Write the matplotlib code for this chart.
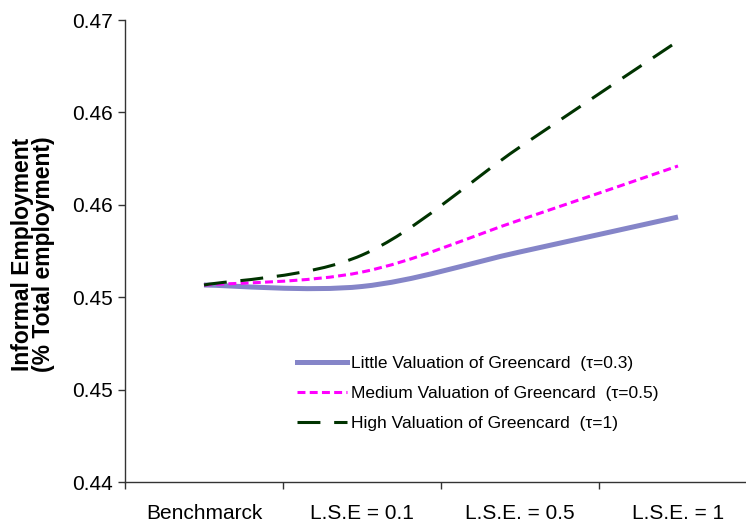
import numpy as np
import matplotlib
matplotlib.use("Agg")
import matplotlib.pyplot as plt
from matplotlib.path import Path
from matplotlib.patches import PathPatch
from matplotlib.lines import Line2D
from matplotlib.ticker import FormatStrFormatter

plt.rcParams['font.family'] = ['Liberation Sans', 'DejaVu Sans']

categories = ["Benchmarck", "L.S.E = 0.1", "L.S.E. = 0.5", "L.S.E. = 1"]
little = [0.45466, 0.45458, 0.45645, 0.45834]
medium = [0.45466, 0.45536, 0.45818, 0.46110]
high = [0.45466, 0.45628, 0.46213, 0.46786]
labels = ["Little Valuation of Greencard  (\u03c4=0.3)",
          "Medium Valuation of Greencard  (\u03c4=0.5)",
          "High Valuation of Greencard  (\u03c4=1)"]
yticks = [0.444, 0.449, 0.454, 0.459, 0.464, 0.469]

W, H = 746, 527
fig = plt.figure(figsize=(W / 100, H / 100), dpi=100)
ax = fig.add_axes([125 / W, 45 / H, 632 / W, 462 / H])


def smooth_path(ys):
    xs = np.arange(len(ys), dtype=float)
    pts = np.column_stack([xs, np.asarray(ys, dtype=float)])
    n = len(pts)
    verts = [pts[0]]
    codes = [Path.MOVETO]
    for i in range(n - 1):
        p0 = pts[max(i - 1, 0)]
        p1 = pts[i]
        p2 = pts[i + 1]
        p3 = pts[min(i + 2, n - 1)]
        c1 = p1 + (p2 - p0) / 6.0
        c2 = p2 - (p3 - p1) / 6.0
        verts += [c1, c2, p2]
        codes += [Path.CURVE4] * 3
    return Path(verts, codes)


styles = [
    dict(color='#8585C8', lw=3.6, ls='-'),
    dict(color='#FF00FF', lw=2.2, ls=(0, (2.6, 1.4))),
    dict(color='#003300', lw=2.2, ls=(0, (7.5, 4.5))),
]
series = [little, medium, high]
handles = []
for ys, st, lab in zip(series, styles, labels):
    patch = PathPatch(smooth_path(ys), facecolor='none', edgecolor=st['color'],
                      lw=st['lw'], linestyle=st['ls'], capstyle='butt')
    ax.add_patch(patch)
    handles.append(Line2D([], [], color=st['color'], lw=st['lw'], linestyle=st['ls'], label=lab))

ax.set_xlim(-0.5, len(categories) - 0.5)
ax.set_ylim(yticks[0], yticks[-1])

ax.set_xticks(np.arange(-0.5, len(categories), 1.0))
ax.set_xticklabels([])
ax.set_xticks(np.arange(len(categories)), minor=True)
ax.set_xticklabels(categories, minor=True, fontsize=15)
ax.tick_params(axis='x', which='minor', length=0, pad=16)
ax.tick_params(axis='x', which='major', length=5, width=1, direction='out', color='#333333')

ax.set_yticks(yticks)
ax.yaxis.set_major_formatter(FormatStrFormatter('%.2f'))
ax.tick_params(axis='y', length=5, width=1, direction='out', labelsize=15, pad=4, color='#333333')

for s in ['top', 'right']:
    ax.spines[s].set_visible(False)
for s in ['left', 'bottom']:
    ax.spines[s].set_color('#333333')
    ax.spines[s].set_linewidth(1.0)

fig.text(33 / W, 1 - 254 / H, "Informal Employment\n(% Total employment)",
         rotation=90, ha='center', va='center', multialignment='center',
         fontsize=16.5, fontweight='bold', linespacing=0.9)

fig.legend(handles=handles, loc='upper left', bbox_to_anchor=(297 / W, 1 - 356 / H),
           frameon=False, fontsize=12.5, handlelength=2.9, handletextpad=0.2,
           labelspacing=0.85, borderpad=0, borderaxespad=0)

fig.savefig("out.png", dpi=100)
